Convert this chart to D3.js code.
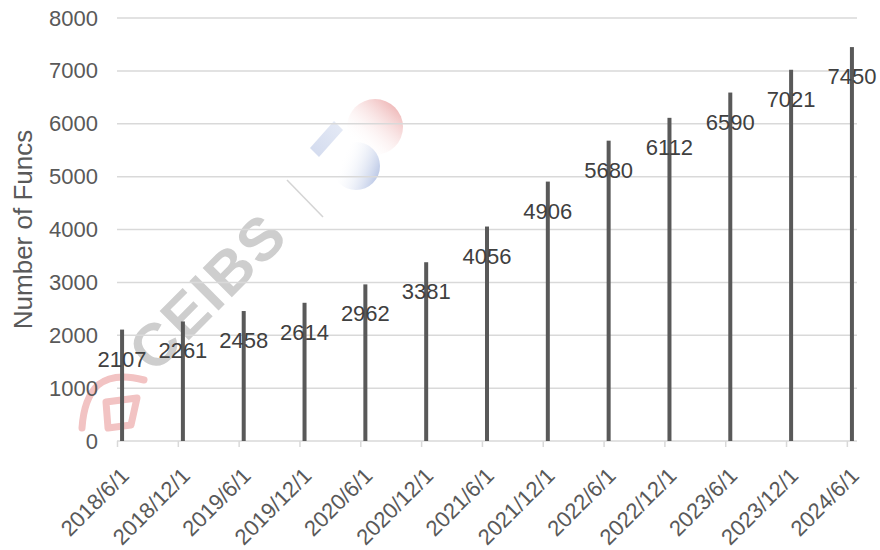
<!DOCTYPE html>
<html>
<head>
<meta charset="utf-8">
<script src="https://cdn.jsdelivr.net/npm/d3@7/dist/d3.min.js"></script>
<style>
  html, body { margin: 0; padding: 0; background: #ffffff; }
  svg { display: block; font-family: "Liberation Sans", Arial, sans-serif; }
</style>
</head>
<body>
<svg id="chart" width="880" height="550"></svg>
<script>
// Fund counts sampled every six months
const dates = ["2018/6/1", "2018/12/1", "2019/6/1", "2019/12/1", "2020/6/1", "2020/12/1",
               "2021/6/1", "2021/12/1", "2022/6/1", "2022/12/1", "2023/6/1", "2023/12/1", "2024/6/1"];
const funcs = [2107, 2261, 2458, 2614, 2962, 3381, 4056, 4906, 5680, 6112, 6590, 7021, 7450];
const yTicks = [0, 1000, 2000, 3000, 4000, 5000, 6000, 7000, 8000];
const yTitle = "Number of Funcs";

const svg = d3.select("#chart");

// Month index relative to the first date (date axis with month base unit)
const parse = s => { const [y, m] = s.split("/").map(Number); return y * 12 + (m - 1); };
const m0 = parse(dates[0]);
const months = dates.map(d => parse(d) - m0);
const nMonths = d3.max(months) + 1;

const x = d3.scaleLinear().domain([0, nMonths]).range([117, 857]);
const y = d3.scaleLinear().domain([0, 8000]).range([441, 18]);

// Watermark logo
const wm = svg.append("g").attr("class", "watermark");
const defs = svg.append("defs");
const gPink = defs.append("linearGradient").attr("id", "gPink")
  .attr("x1", "85%").attr("y1", "15%").attr("x2", "20%").attr("y2", "85%");
gPink.append("stop").attr("offset", "0%").attr("stop-color", "#f0bdbd");
gPink.append("stop").attr("offset", "100%").attr("stop-color", "#ffffff").attr("stop-opacity", 0);
const gBlue = defs.append("linearGradient").attr("id", "gBlue")
  .attr("x1", "100%").attr("y1", "55%").attr("x2", "25%").attr("y2", "25%");
gBlue.append("stop").attr("offset", "0%").attr("stop-color", "#c0cce8");
gBlue.append("stop").attr("offset", "100%").attr("stop-color", "#ffffff").attr("stop-opacity", 0);
const gBar = defs.append("linearGradient").attr("id", "gBar")
  .attr("x1", "0%").attr("y1", "100%").attr("x2", "100%").attr("y2", "0%");
gBar.append("stop").attr("offset", "0%").attr("stop-color", "#d2daee");
gBar.append("stop").attr("offset", "100%").attr("stop-color", "#e6ebf6");
wm.append("circle").attr("cx", 375).attr("cy", 127).attr("r", 28).attr("fill", "url(#gPink)");
wm.append("circle").attr("cx", 356).attr("cy", 166).attr("r", 24).attr("fill", "url(#gBlue)");
wm.append("path").attr("d", "M310,148 L334,121 L343,130 L319,157 Z").attr("fill", "url(#gBar)");
wm.append("line").attr("x1", 287).attr("y1", 180).attr("x2", 323).attr("y2", 217)
  .attr("stroke", "#d4d4d4").attr("stroke-width", 1.5);
wm.append("text").attr("transform", "translate(154,375) rotate(-45)")
  .attr("font-size", 60).attr("font-weight", "bold").attr("fill", "#cecece")
  .attr("letter-spacing", 2).text("CEIBS");
wm.append("path")
  .attr("d", "M82,428 Q84,398 98,385 Q114,372 144,380 M106,402 L137,398 L131,425 L108,428 Z")
  .attr("fill", "none").attr("stroke", "#f2c3c3").attr("stroke-width", 7)
  .attr("stroke-linecap", "round").attr("stroke-linejoin", "round");

// Horizontal gridlines
svg.append("g").selectAll("line").data(yTicks.filter(t => t > 0)).join("line")
  .attr("x1", x(0)).attr("x2", x(nMonths))
  .attr("y1", d => y(d)).attr("y2", d => y(d))
  .attr("stroke", "#d9d9d9").attr("stroke-width", 1.5);

// Y axis labels
const yAxis = svg.append("g").attr("transform", `translate(${x(0)},0)`)
  .call(d3.axisLeft(y).tickValues(yTicks).tickSize(0).tickPadding(19).tickFormat(d3.format("d")));
yAxis.select(".domain").remove();
yAxis.selectAll("text").attr("font-size", 22).attr("fill", "#595959")
  .attr("font-family", "Liberation Sans, Arial, sans-serif");

// X axis (tick at each sampled date)
const xAxis = svg.append("g").attr("transform", `translate(0,${y(0)})`)
  .call(d3.axisBottom(x).tickValues(months).tickSize(6).tickFormat((d, i) => dates[i]));
xAxis.select(".domain").attr("d", `M${x(0)},0H${x(nMonths)}`).attr("stroke", "#d9d9d9").attr("stroke-width", 1.5);
xAxis.selectAll(".tick line").attr("stroke", "#d9d9d9").attr("stroke-width", 1.5);
xAxis.selectAll(".tick text")
  .attr("font-size", 22).attr("fill", "#595959")
  .attr("font-family", "Liberation Sans, Arial, sans-serif")
  .attr("text-anchor", "end").attr("dy", 0).attr("y", 0)
  .attr("transform", "translate(13,36) rotate(-45)");

// Bars
svg.append("g").selectAll("rect").data(funcs).join("rect")
  .attr("x", (d, i) => x(months[i] + 0.5) - 2)
  .attr("width", 4)
  .attr("y", d => y(d))
  .attr("height", d => y(0) - y(d))
  .attr("fill", "#595959");

// Value labels
svg.append("g").selectAll("text").data(funcs).join("text")
  .attr("x", (d, i) => x(months[i] + 0.5))
  .attr("y", d => y(d) + 37)
  .attr("text-anchor", "middle")
  .attr("font-size", 22).attr("fill", "#404040")
  .text(d => d);

// Y axis title
svg.append("text")
  .attr("transform", `translate(32,${(y(0) + y(8000)) / 2}) rotate(-90)`)
  .attr("text-anchor", "middle").attr("font-size", 26).attr("fill", "#595959")
  .text(yTitle);
</script>
</body>
</html>
